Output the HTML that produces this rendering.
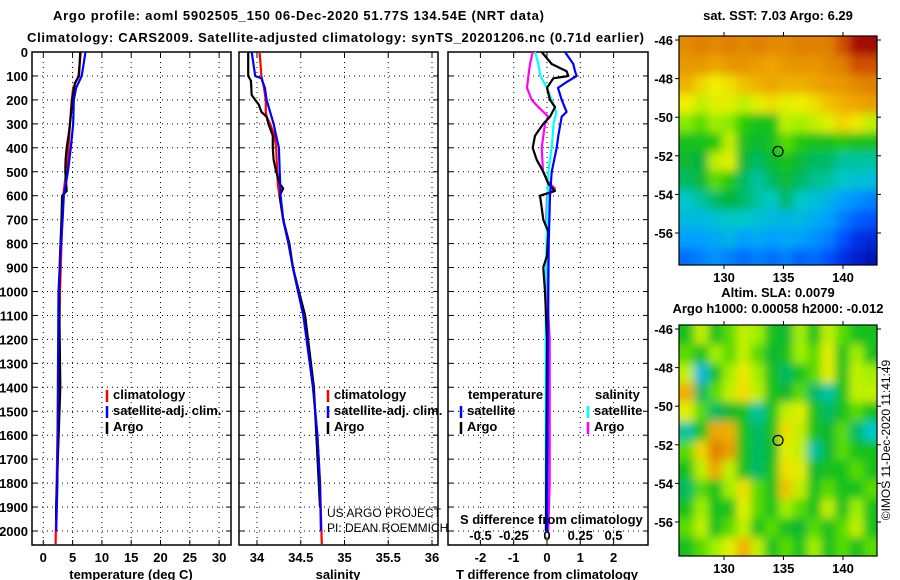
<!DOCTYPE html>
<html><head><meta charset="utf-8"><style>
html,body{margin:0;padding:0;background:#fff;}
svg{display:block;font-family:"Liberation Sans",sans-serif;}
.b{font-weight:bold;font-size:13px;fill:#000;}
</style></head><body>
<svg id="chart" width="900" height="580" viewBox="0 0 900 580">
<defs>
<filter id="blur" x="-10%" y="-10%" width="120%" height="120%"><feGaussianBlur stdDeviation="4.5"/></filter>
<clipPath id="clipTop"><rect x="679" y="36" width="198" height="229"/></clipPath>
<clipPath id="clipBot"><rect x="679" y="325" width="198" height="231"/></clipPath>
</defs>
<text class="b" x="53" y="20" textLength="491">Argo profile: aoml 5902505_150 06-Dec-2020 51.77S 134.54E (NRT data)</text>
<text class="b" x="27" y="42" textLength="617">Climatology: CARS2009. Satellite-adjusted climatology: synTS_20201206.nc (0.71d earlier)</text>
<text class="b" x="778" y="20" text-anchor="middle">sat. SST: 7.03 Argo: 6.29</text>
<text class="b" x="778" y="297" text-anchor="middle">Altim. SLA: 0.0079</text>
<text class="b" x="778" y="313" text-anchor="middle">Argo h1000: 0.00058 h2000: -0.012</text>
<text x="890" y="440" font-size="12" text-anchor="middle" transform="rotate(-90 890 440)">©IMOS 11-Dec-2020 11:41:49</text>
<g id="panels"></g>
<g id="maps"></g>
</svg>
<script>
// ---------- data ----------
const depthTicks=[0,100,200,300,400,500,600,700,800,900,1000,1100,1200,1300,1400,1500,1600,1700,1800,1900,2000];
const tempTicks=[0,5,10,15,20,25,30];
const salTicks=[34,34.5,35,35.5,36];
const tdiffTicks=[-2,-1,0,1,2];
const sdiffTicks=[-0.5,-0.25,0,0.25,0.5];

const tClimDepth=[0,100,150,200,300,400,500,600,800,1000,1500,2055];
const tClimVal=[6.4,6.0,5.1,4.85,4.55,4.3,3.9,3.4,3.1,2.85,2.5,2.1];
const tSatDepth=[0,100,150,200,300,400,500,600,700,800,1000,1400,1800,2000];
const tSatVal=[7.2,6.55,5.6,5.2,5.1,4.7,4.2,3.5,3.3,3.0,2.6,2.5,2.4,2.2];
const tArgoDepth=[0,50,100,130,200,300,350,400,450,500,580,600,700,850,1000,1400,1900,1950];
const tArgoVal=[6.3,6.2,6.1,5.4,4.95,4.55,4.3,4.0,3.8,3.75,4.0,3.2,3.1,2.85,2.7,2.9,2.2,2.2];

const sClimDepth=[0,100,150,200,250,270,300,350,400,500,560,700,800,900,1000,1100,1400,1600,1800,2055];
const sClimVal=[34.03,34.05,34.08,34.1,34.1,34.11,34.15,34.2,34.22,34.23,34.24,34.3,34.36,34.41,34.47,34.53,34.64,34.69,34.72,34.74];
const sSatDepth=[0,100,110,150,200,250,300,350,400,500,600,700,800,900,1000,1100,1400,1600,1800,2000];
const sSatVal=[33.94,33.98,34.05,34.09,34.11,34.15,34.19,34.22,34.25,34.26,34.27,34.3,34.36,34.41,34.47,34.53,34.64,34.69,34.72,34.73];
const sArgoDepth=[0,100,120,180,200,220,250,270,300,350,400,450,500,550,570,600,700,800,900,1000,1100,1400,1900];
const sArgoVal=[33.9,33.9,33.93,33.94,33.98,34.02,34.05,34.11,34.13,34.18,34.18,34.19,34.22,34.26,34.3,34.26,34.3,34.37,34.41,34.48,34.55,34.65,34.72];

const dtSatDepth=[0,50,80,100,130,150,200,250,270,350,400,500,600,800,1200,2000];
const dtSatVal=[0.54,0.79,0.84,0.89,0.54,0.33,0.44,0.59,0.44,0.34,0.29,0.14,0.09,0.05,0.03,0.0];
const dtArgoDepth=[0,50,80,100,110,150,200,230,270,300,350,400,450,500,550,580,600,650,700,750,850,900,1000,1200,2000];
const dtArgoVal=[-0.16,0.14,0.59,0.64,0.19,0,0.09,0.24,0.09,-0.11,-0.36,-0.43,-0.31,-0.11,0.04,0.24,-0.21,-0.16,-0.11,0.04,0,-0.11,-0.06,0,-0.03];
const dsSatDepth=[0,50,100,150,200,250,300,400,500,700,1000,2000];
const dsSatVal=[-0.09,-0.065,-0.05,0,0.035,0.07,0.05,0.035,0.01,0,-0.01,-0.01];
const dsArgoDepth=[0,50,100,150,200,230,270,300,400,500,550,570,600,700,800,1000,1200,1400,1800,2000];
const dsArgoVal=[-0.107,-0.128,-0.14,-0.15,-0.115,-0.065,0.01,-0.015,-0.04,-0.03,0.02,0.06,0,-0.005,0.01,0,0.02,0.02,0.02,0.01];

const mapLonTicks=[130,135,140];
const mapLatTicks=[-46,-48,-50,-52,-54,-56];
const argoLon=134.54, argoLat=-51.77;
const sstGrid=[
[0.78,0.8,0.78,0.8,0.78,0.8,0.78,0.78,0.8,0.8,0.8,0.85,0.95,0.97],
[0.75,0.75,0.72,0.75,0.76,0.74,0.72,0.75,0.76,0.75,0.78,0.8,0.85,0.85],
[0.7,0.66,0.63,0.65,0.68,0.7,0.72,0.7,0.7,0.72,0.74,0.75,0.78,0.8],
[0.63,0.6,0.62,0.62,0.6,0.62,0.65,0.62,0.63,0.65,0.68,0.7,0.72,0.74],
[0.57,0.55,0.58,0.57,0.53,0.5,0.5,0.6,0.58,0.6,0.62,0.66,0.64,0.6],
[0.5,0.5,0.52,0.6,0.5,0.48,0.5,0.55,0.52,0.5,0.5,0.52,0.5,0.5],
[0.48,0.47,0.6,0.62,0.48,0.45,0.48,0.5,0.48,0.45,0.45,0.42,0.42,0.42],
[0.45,0.48,0.55,0.52,0.45,0.42,0.45,0.48,0.45,0.43,0.42,0.4,0.38,0.37],
[0.4,0.42,0.45,0.47,0.45,0.42,0.4,0.45,0.4,0.38,0.35,0.3,0.28,0.25],
[0.36,0.36,0.38,0.4,0.4,0.38,0.36,0.35,0.36,0.33,0.3,0.25,0.2,0.18],
[0.3,0.3,0.32,0.35,0.3,0.32,0.3,0.32,0.3,0.28,0.25,0.18,0.12,0.1],
[0.22,0.25,0.28,0.25,0.22,0.25,0.22,0.25,0.2,0.22,0.18,0.12,0.08,0.05]];
const slaGrid=[
[0.5,0.6,0.5,0.55,0.6,0.58,0.5,0.48,0.58,0.5,0.6,0.55,0.5,0.5],
[0.55,0.5,0.58,0.55,0.6,0.55,0.48,0.5,0.58,0.55,0.62,0.5,0.58,0.5],
[0.6,0.36,0.5,0.58,0.64,0.58,0.5,0.45,0.5,0.55,0.62,0.5,0.6,0.58],
[0.7,0.45,0.55,0.6,0.65,0.6,0.5,0.48,0.55,0.45,0.42,0.5,0.6,0.6],
[0.62,0.55,0.45,0.48,0.5,0.42,0.5,0.6,0.62,0.5,0.45,0.5,0.55,0.5],
[0.42,0.5,0.72,0.7,0.5,0.45,0.5,0.65,0.6,0.5,0.48,0.55,0.45,0.4],
[0.55,0.66,0.8,0.74,0.5,0.45,0.48,0.62,0.6,0.42,0.48,0.55,0.5,0.5],
[0.5,0.6,0.72,0.6,0.5,0.45,0.5,0.65,0.62,0.48,0.5,0.5,0.55,0.5],
[0.45,0.55,0.5,0.58,0.65,0.55,0.5,0.68,0.6,0.5,0.55,0.5,0.5,0.55],
[0.5,0.58,0.5,0.5,0.62,0.55,0.5,0.58,0.55,0.5,0.6,0.5,0.58,0.5],
[0.55,0.6,0.5,0.55,0.6,0.5,0.55,0.5,0.48,0.55,0.5,0.55,0.6,0.5],
[0.5,0.55,0.58,0.62,0.7,0.6,0.5,0.55,0.5,0.58,0.5,0.55,0.5,0.55]];

// ---------- helpers ----------
const NS="http://www.w3.org/2000/svg";
function mk(tag,attrs,parent){const e=document.createElementNS(NS,tag);for(const k in attrs)e.setAttribute(k,attrs[k]);parent.appendChild(e);return e;}
const panelsG=document.getElementById('panels');
const mapsG=document.getElementById('maps');
const yTop=52, yBot=545;
function yD(d){return 52+d*0.2395;}

function makePanel(name,x0,x1,xf,ticks,tickFmt,showDepth){
  const g=mk('g',{},panelsG);
  
  
  ticks.forEach(t=>{const x=xf(t);
    const l=mk('line',{x1:x,x2:x,y1:yTop,y2:yBot,stroke:'#000','stroke-width':1,'stroke-dasharray':'1,4'},g);
    
    
    mk('line',{x1:x,x2:x,y1:yTop,y2:yTop+5,stroke:'#000'},g);
    mk('line',{x1:x,x2:x,y1:yBot,y2:yBot-5,stroke:'#000'},g);
    if(tickFmt){const tx=mk('text',{x:x,y:562,'text-anchor':'middle',class:'b'},g);tx.textContent=tickFmt(t);
      
      }
  });
  depthTicks.forEach(d=>{const y=yD(d);
    const l=mk('line',{x1:x0,x2:x1,y1:y,y2:y,stroke:'#000','stroke-dasharray':'1,4'},g);
    
    
    mk('line',{x1:x0,x2:x0+5,y1:y,y2:y,stroke:'#000'},g);
    mk('line',{x1:x1,x2:x1-5,y1:y,y2:y,stroke:'#000'},g);
    if(showDepth){const tx=mk('text',{x:28,y:y+5,'text-anchor':'end',class:'b'},g);tx.textContent=d;
      
      }
  });
  const r=mk('rect',{x:x0,y:yTop,width:x1-x0,height:yBot-yTop,fill:'none',stroke:'#000','stroke-width':1.5},g);
  
  
  return g;
}
function series(g,name,depths,vals,xf,color){
  const pts=[];
  for(let i=0;i<depths.length;i++){
    pts.push(xf(vals[i]).toFixed(1)+','+yD(depths[i]).toFixed(1));
  }
  const p=mk('polyline',{points:pts.join(' '),fill:'none',stroke:color,'stroke-width':2.2,'stroke-linejoin':'round'},g);
  
  
}
function legendItem(g,name,x,y,color,label){
  mk('line',{x1:x,x2:x,y1:y-9,y2:y+3,stroke:color,'stroke-width':2.5},g);
  const t=mk('text',{x:x+6,y:y,class:'b'},g);t.textContent=label;
  
  
}

// Panel 1 temperature
const xT=v=>43.3+5.86*v;
const p1=makePanel('temperature-panel',32,231,xT,tempTicks,t=>t,true);
series(p1,'temp-climatology-line',tClimDepth,tClimVal,xT,'#ff0000');
series(p1,'temp-argo-line',tArgoDepth,tArgoVal,xT,'#000000');
series(p1,'temp-satellite-line',tSatDepth,tSatVal,xT,'#0000ff');
legendItem(p1,'legend-climatology',107,399,'#ff0000','climatology');
legendItem(p1,'legend-satellite-adj',107,415,'#0000ff','satellite-adj. clim.');
legendItem(p1,'legend-argo',107,431,'#000','Argo');
let t1=mk('text',{x:131,y:579,'text-anchor':'middle',class:'b'},p1);t1.textContent='temperature (deg C)';



// Panel 2 salinity
const xS=v=>257+87.5*(v-34);
const p2=makePanel('salinity-panel',239,438,xS,salTicks,t=>t,false);
series(p2,'sal-climatology-line',sClimDepth,sClimVal,xS,'#ff0000');
series(p2,'sal-argo-line',sArgoDepth,sArgoVal,xS,'#000000');
series(p2,'sal-satellite-line',sSatDepth,sSatVal,xS,'#0000ff');
legendItem(p2,'legend-climatology-2',328,399,'#ff0000','climatology');
legendItem(p2,'legend-satellite-adj-2',328,415,'#0000ff','satellite-adj. clim.');
legendItem(p2,'legend-argo-2',328,431,'#000','Argo');
let t2=mk('text',{x:338,y:579,'text-anchor':'middle',class:'b'},p2);t2.textContent='salinity';


let c1=mk('text',{x:327,y:517,'font-size':'12'},p2);c1.textContent='US ARGO PROJECT';


let c2=mk('text',{x:327,y:532,'font-size':'12'},p2);c2.textContent='PI: DEAN ROEMMICH';



// Panel 3 differences
const xDT=v=>547+33.3*v;
const xDS=v=>547+133*v;
const p3=makePanel('difference-panel',448,648,xDT,tdiffTicks,t=>t,false);
series(p3,'sdiff-argo-line',dsArgoDepth,dsArgoVal,xDS,'#ff00ff');
series(p3,'sdiff-satellite-line',dsSatDepth,dsSatVal,xDS,'#00ffff');
series(p3,'tdiff-argo-line',dtArgoDepth,dtArgoVal,xDT,'#000000');
series(p3,'tdiff-satellite-line',dtSatDepth,dtSatVal,xDT,'#0000ff');
let lt=mk('text',{x:468,y:399,class:'b'},p3);lt.textContent='temperature';


let ls=mk('text',{x:595,y:399,class:'b'},p3);ls.textContent='salinity';


legendItem(p3,'legend-t-satellite',461,415,'#0000ff','satellite');
legendItem(p3,'legend-t-argo',461,431,'#000','Argo');
legendItem(p3,'legend-s-satellite',588,415,'#00ffff','satellite');
legendItem(p3,'legend-s-argo',588,431,'#ff00ff','Argo');
let sd=mk('text',{x:460,y:524,class:'b'},p3);sd.textContent='S difference from climatology';


sdiffTicks.forEach(v=>{const t=mk('text',{x:xDS(v),y:540,'text-anchor':'middle',class:'b'},p3);t.textContent=v;
  
  });
let t3=mk('text',{x:547,y:579,'text-anchor':'middle',class:'b'},p3);t3.textContent='T difference from climatology';



// ---------- maps ----------
const cstops=[[0,[0,0,144]],[0.15,[0,64,255]],[0.3,[0,160,255]],[0.4,[0,200,200]],[0.47,[0,180,60]],[0.53,[40,205,0]],[0.58,[160,240,0]],[0.63,[240,240,0]],[0.7,[240,176,0]],[0.8,[224,128,0]],[0.9,[192,32,0]],[1,[144,0,0]]];
function cmap(v){v=Math.max(0,Math.min(1,v));for(let i=1;i<cstops.length;i++){if(v<=cstops[i][0]){const a=cstops[i-1],b=cstops[i];const f=(v-a[0])/(b[0]-a[0]);const c=a[1].map((x,k)=>Math.round(x+(b[1][k]-x)*f));return 'rgb('+c+')';}}return 'rgb(144,0,0)';}
const lonX=lon=>724+(lon-130)*11.9;
function makeMap(name,grid,off,clip){
  const g=mk('g',{},mapsG);
  
  
  const latY=lat=>40+off+(-46-lat)*19.3;
  const cg=mk('g',{'clip-path':'url(#'+clip+')'},g);
  const bg=mk('g',{filter:'url(#blur)'},cg);
  const nr=grid.length,nc=grid[0].length;
  const lon0=126.3,dlon=(142.9-126.3)/nc,lat0=-45.8,dlat=1.0;
  for(let r=-1;r<=nr;r++)for(let c=-1;c<=nc;c++){
    const rr=Math.max(0,Math.min(nr-1,r)),cc=Math.max(0,Math.min(nc-1,c));
    const x=lonX(lon0+c*dlon),y=latY(lat0-r*dlat);
    const cell=mk('rect',{x:x.toFixed(1),y:y.toFixed(1),width:(dlon*11.9+0.6).toFixed(1),height:(dlat*19.3+0.6).toFixed(1),fill:cmap(grid[rr][cc])},bg);
    
    
  }
  const top=off+36,h=(off?231:229);
  mk('rect',{x:679,y:top,width:198,height:h,fill:'none',stroke:'#000','stroke-width':1.2},g);
  mapLonTicks.forEach(l=>{const x=lonX(l);
    mk('line',{x1:x,x2:x,y1:top,y2:top-4,stroke:'#000'},g);
    mk('line',{x1:x,x2:x,y1:top+h,y2:top+h+4,stroke:'#000'},g);
    const t=mk('text',{x:x,y:top+h+17,'text-anchor':'middle',class:'b'},g);t.textContent=l;
    
    });
  mapLatTicks.forEach(l=>{const y=latY(l);
    mk('line',{x1:679,x2:675,y1:y,y2:y,stroke:'#000'},g);
    mk('line',{x1:877,x2:881,y1:y,y2:y,stroke:'#000'},g);
    const t=mk('text',{x:673,y:y+5,'text-anchor':'end',class:'b'},g);t.textContent=l;
    
    });
  const m=mk('circle',{cx:lonX(argoLon),cy:latY(argoLat),r:5,fill:'none',stroke:'#000','stroke-width':1.2},g);
  
  
}
makeMap('sst-map',sstGrid,0,'clipTop');
makeMap('sla-map',slaGrid,289,'clipBot');
</script>
</body></html>
